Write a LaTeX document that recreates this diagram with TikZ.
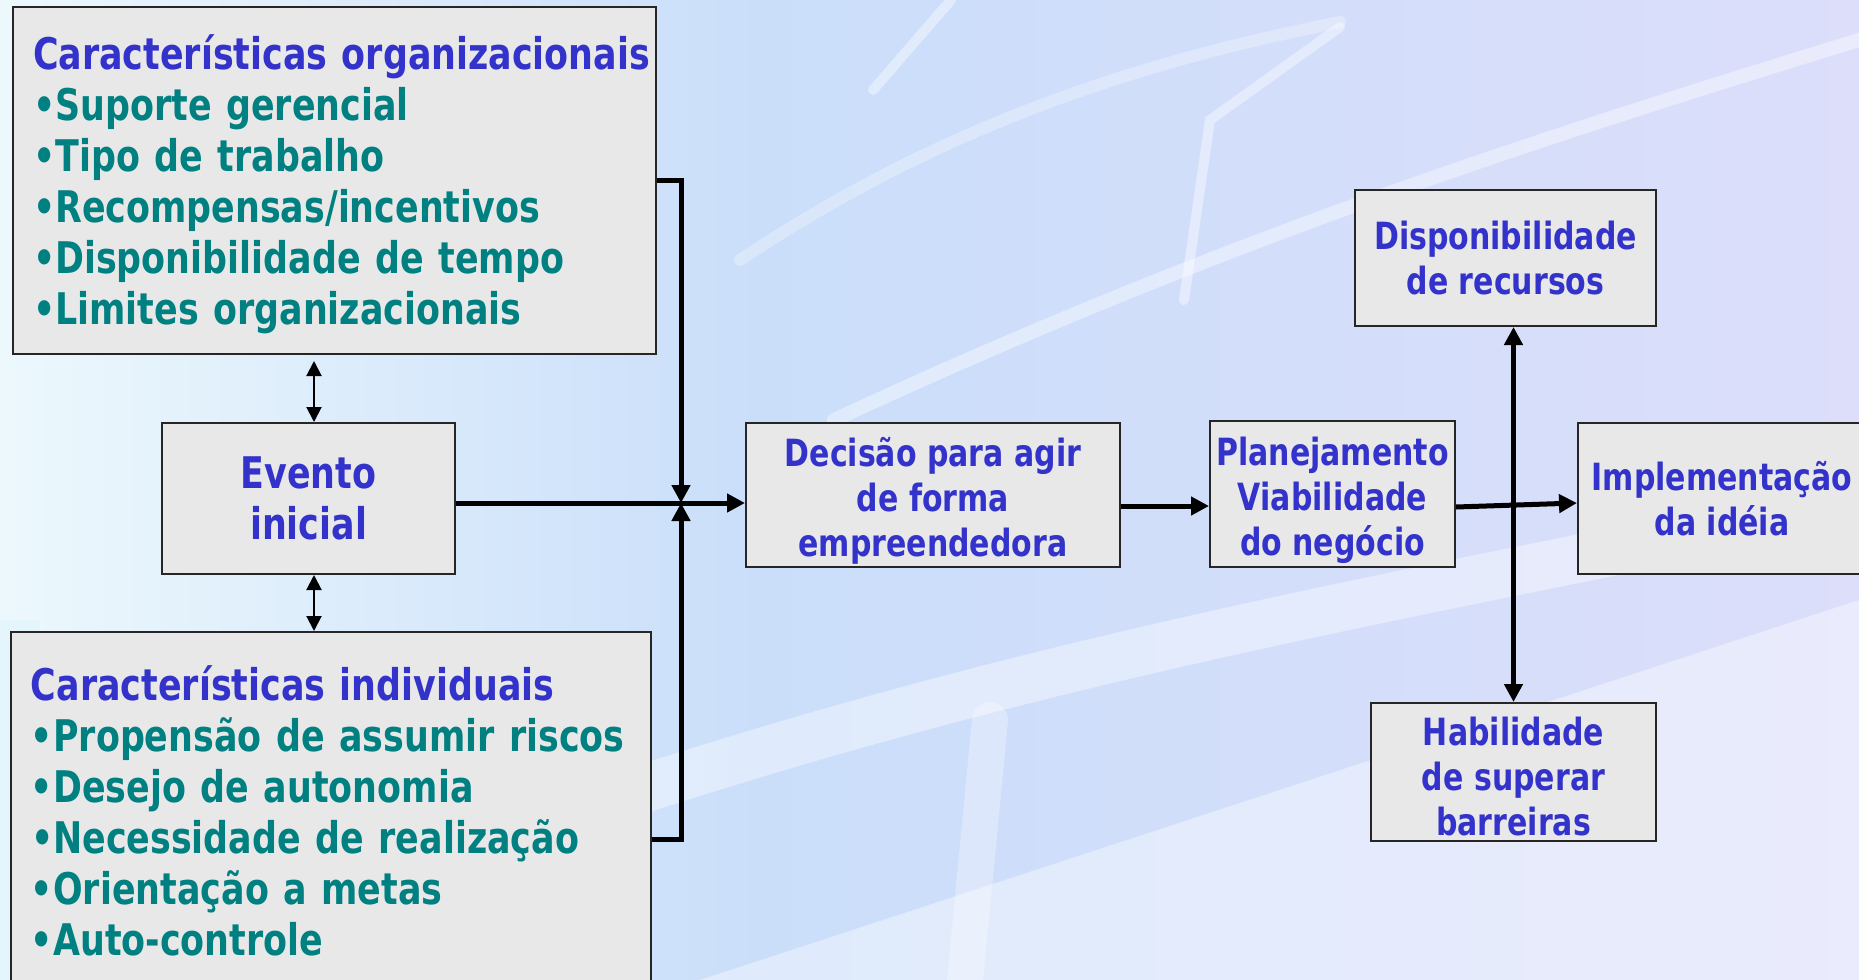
\documentclass[tikz,border=0pt]{standalone}
\usepackage{fontspec}
\setmainfont{DejaVu Sans}[FakeStretch=0.8]
\usetikzlibrary{arrows.meta,calc}

\definecolor{titulo}{RGB}{51,51,204}
\definecolor{item}{RGB}{0,128,128}
\definecolor{caixa}{RGB}{232,232,232}
\definecolor{fundoA}{RGB}{236,248,252}
\definecolor{fundoM}{RGB}{202,222,250}
\definecolor{fundoB}{RGB}{220,222,250}

\newcommand{\grande}{\fontsize{21.8}{25.5}\selectfont}
\newcommand{\medio}{\fontsize{18.75}{22.5}\selectfont}
\newcommand{\desce}[1]{\rule{0pt}{#1}}

\tikzset{every picture/.style={line width=0.75pt}}
\tikzset{
  bloco/.style={draw=black!85, fill=caixa, line width=1pt, inner sep=0pt,
    text=titulo, align=center, font=\bfseries\medio},
  lista/.style={bloco, align=left, inner xsep=10pt, text=item, font=\bfseries\grande},
  seta/.style={-{Triangle[length=9pt,width=9pt]}, line width=2.5pt},
  dupla/.style={{Triangle[length=7.5pt,width=7.5pt]}-{Triangle[length=7.5pt,width=7.5pt]}, line width=1pt},
  faixa/.style={white, opacity=0.4, line cap=round},
}

\begin{document}
\begin{tikzpicture}[x=0.5pt,y=0.5pt,yscale=-1,xscale=1]
\path[use as bounding box] (0,0) rectangle (1859,980);
\clip (0,0) rectangle (1859,980);

%Background
\shade[left color=fundoA, right color=fundoM] (0,0) rectangle (760,980);
\shade[left color=fundoM, right color=fundoB] (760,0) rectangle (1859,980);
\fill[white, opacity=0.4] (700,980) -- (1859,600) -- (1859,980) -- cycle;
\fill[cyan!12, opacity=0.6] (0,620) rectangle (40,980);
%Light bands
\draw[faixa, line width=24pt] (640,790) .. controls (1100,640) and (1500,580) .. (1859,500);
\draw[faixa, line width=6pt, opacity=0.3] (740,260) .. controls (950,120) and (1150,60) .. (1340,22);
\draw[faixa, line width=7pt] (834,420) .. controls (1200,250) and (1500,150) .. (1859,40);
\draw[faixa, line width=5pt] (1184,300) -- (1210,120) -- (1340,27);
\draw[faixa, line width=5pt] (951,0) -- (873,90);
\draw[faixa, line width=18pt, opacity=0.3] (990,720) -- (965,980);

% Text Node
\node[lista, text width=301.5pt, minimum width=321.5pt, minimum height=173.5pt] (org) at (334.5,180.5)
  {\desce{21.5pt}\mbox{\color{titulo}Características organizacionais}\\
   •Suporte gerencial\\
   •Tipo de trabalho\\
   •Recompensas/incentivos\\
   •Disponibilidade de tempo\\
   •Limites organizacionais};
% Text Node
\node[lista, text width=300pt, minimum width=320pt, minimum height=179pt] (ind) at (331,811)
  {\mbox{\color{titulo}Características individuais}\\
   •Propensão de assumir riscos\\
   •Desejo de autonomia\\
   •Necessidade de realização\\
   •Orientação a metas\\
   •Auto-controle};
% Text Node
\node[bloco, font=\bfseries\grande, minimum width=146.5pt, minimum height=75.5pt] (ev) at (308.5,498.5) {Evento\\inicial};
% Text Node
\node[bloco, minimum width=187pt, minimum height=72pt] (dec) at (933,495) {\desce{20.5pt}Decisão para agir\\de forma\\empreendedora};
% Text Node
\node[bloco, minimum width=122.5pt, minimum height=73pt] (plan) at (1332.5,494) {\desce{20.5pt}Planejamento\\Viabilidade\\do negócio};
% Text Node
\node[bloco, minimum width=144pt, minimum height=75.5pt] (impl) at (1722,498.5) {Implementação\\da idéia};
% Text Node
\node[bloco, minimum width=150.5pt, minimum height=68pt] (disp) at (1505.5,258) {Disponibilidade\\de recursos};
% Text Node
\node[bloco, minimum width=142.5pt, minimum height=69pt] (hab) at (1513.5,772) {\desce{18.5pt}Habilidade\\de superar\\barreiras};

\coordinate (junc) at (681,503);

%Straight Lines
\draw[seta] (ev.east |- junc) -- (dec.west |- junc);
\draw[seta] (org.east) -| (junc);
\draw[seta] ([yshift=14pt]ind.east) -| (junc);
\draw[seta] ([yshift=5.5pt]dec.east) -- ([yshift=5.5pt]dec.east -| plan.west);
\draw[seta] ([yshift=6.5pt]plan.east) -- ([yshift=2.25pt]impl.west);
\draw[seta, {Triangle[length=9pt,width=9pt]}-{Triangle[length=9pt,width=9pt]}] (hab.north) -- (hab.north |- disp.south);
\draw[dupla, shorten <=3pt] ([xshift=2.75pt]ev.north |- org.south) -- ([xshift=2.75pt]ev.north);
\draw[dupla] ([xshift=2.75pt]ev.south) -- ([xshift=2.75pt]ev.south |- ind.north);

\end{tikzpicture}
\end{document}
